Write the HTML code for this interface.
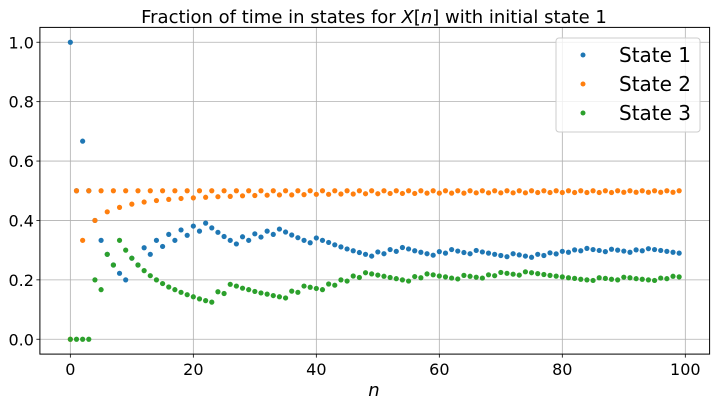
<!DOCTYPE html>
<html><head><meta charset="utf-8"><style>
html,body{margin:0;padding:0;background:#fff;}
svg{display:block;font-family:"DejaVu Sans","Liberation Sans",sans-serif;}
</style></head><body>
<svg id="chart" width="716" height="405" viewBox="0 0 716 405" xmlns="http://www.w3.org/2000/svg">
<text x="374" y="23" text-anchor="middle" font-size="18" fill="#000">Fraction of time in states for <tspan font-style="italic">X</tspan>[<tspan font-style="italic">n</tspan>] with initial state 1</text>
<g id="grid"></g>
<g id="ticks"></g>
<g id="marks"></g>
<rect x="39.9" y="27.4" width="669.7" height="326.7" fill="none" stroke="#000" stroke-width="1"/>
<text x="374" y="396" text-anchor="middle" font-size="18" font-style="italic">n</text>
<g>
<rect x="556" y="38" width="144" height="94" rx="3" fill="#fff" fill-opacity="0.8" stroke="#ccc"/>
<circle cx="583" cy="55" r="2.5" fill="#1f77b4"/>
<text x="619" y="62" font-size="20">State 1</text>
<circle cx="583" cy="84" r="2.5" fill="#ff7f0e"/>
<text x="619" y="91" font-size="20">State 2</text>
<circle cx="583" cy="113" r="2.5" fill="#2ca02c"/>
<text x="619" y="120" font-size="20">State 3</text>
</g>
</svg>
<script>
const state1 = [1,0.5,0.667,0.5,0.4,0.333,0.286,0.25,0.222,0.2,0.273,0.25,0.308,0.286,0.333,0.3125,0.353,0.333,0.368,0.35,0.381,0.364,0.391,0.375,0.36,0.346,0.333,0.321,0.345,0.333,0.355,0.344,0.364,0.353,0.371,0.361,0.351,0.342,0.333,0.325,0.341,0.333,0.326,0.318,0.311,0.304,0.298,0.292,0.286,0.28,0.294,0.288,0.302,0.296,0.309,0.304,0.298,0.293,0.288,0.283,0.295,0.29,0.302,0.297,0.292,0.288,0.299,0.294,0.29,0.286,0.282,0.278,0.288,0.284,0.28,0.276,0.286,0.282,0.291,0.2875,0.296,0.293,0.301,0.298,0.306,0.302,0.299,0.295,0.303,0.3,0.297,0.293,0.301,0.298,0.305,0.302,0.299,0.296,0.293,0.29];
const state2 = [0,0.5,0.333,0.5,0.4,0.5,0.429,0.5,0.444,0.5,0.455,0.5,0.462,0.5,0.467,0.5,0.471,0.5,0.474,0.5,0.476,0.5,0.478,0.5,0.48,0.5,0.481,0.5,0.483,0.5,0.484,0.5,0.485,0.5,0.486,0.5,0.486,0.5,0.487,0.5,0.488,0.5,0.488,0.5,0.489,0.5,0.489,0.5,0.49,0.5,0.49,0.5,0.491,0.5,0.491,0.5,0.491,0.5,0.492,0.5,0.492,0.5,0.492,0.5,0.492,0.5,0.493,0.5,0.493,0.5,0.493,0.5,0.493,0.5,0.493,0.5,0.494,0.5,0.494,0.5,0.494,0.5,0.494,0.5,0.494,0.5,0.494,0.5,0.494,0.5,0.495,0.5,0.495,0.5,0.495,0.5,0.495,0.5,0.495,0.5];
const state3 = [0,0,0,0,0.2,0.167,0.286,0.25,0.333,0.3,0.273,0.25,0.231,0.214,0.2,0.1875,0.176,0.167,0.158,0.15,0.143,0.136,0.13,0.125,0.16,0.154,0.185,0.179,0.172,0.167,0.161,0.156,0.152,0.147,0.143,0.139,0.162,0.158,0.179,0.175,0.171,0.167,0.186,0.182,0.2,0.196,0.213,0.208,0.224,0.22,0.216,0.212,0.208,0.204,0.2,0.196,0.211,0.207,0.22,0.217,0.213,0.21,0.206,0.203,0.215,0.212,0.209,0.206,0.217,0.214,0.225,0.222,0.219,0.216,0.227,0.224,0.221,0.218,0.215,0.2125,0.21,0.207,0.205,0.202,0.2,0.198,0.207,0.205,0.202,0.2,0.209,0.207,0.204,0.202,0.2,0.198,0.206,0.204,0.212,0.21];
const xTicks = [0,20,40,60,80,100];
const yTicks = [0.0,0.2,0.4,0.6,0.8,1.0];

const NS = 'http://www.w3.org/2000/svg';
const X0 = 39.9, X1 = 709.6, Y0 = 354.1, Y1 = 27.4;
const xMin = -4.95, xMax = 103.95, yMin = -0.05, yMax = 1.05;
function xs(v){ return X0 + (v - xMin) / (xMax - xMin) * (X1 - X0); }
function ys(v){ return Y0 - (v - yMin) / (yMax - yMin) * (Y0 - Y1); }
function mk(tag, attrs){ const e = document.createElementNS(NS, tag); for (const k in attrs) e.setAttribute(k, attrs[k]); return e; }

const grid = document.getElementById('grid');
const ticks = document.getElementById('ticks');
xTicks.forEach(t => {
  const g = mk('line', {x1: xs(t), x2: xs(t), y1: Y1, y2: Y0, stroke: '#b0b0b0', 'stroke-width': 0.8});
  
  
  grid.appendChild(g);
  const tk = mk('line', {x1: xs(t), x2: xs(t), y1: Y0, y2: Y0 + 3.5, stroke: '#000', 'stroke-width': 0.8});
  
  
  ticks.appendChild(tk);
  const lb = mk('text', {x: xs(t), y: Y0 + 21, 'text-anchor': 'middle', 'font-size': 16});
  
  
  lb.textContent = String(t);
  ticks.appendChild(lb);
});
yTicks.forEach(t => {
  const g = mk('line', {x1: X0, x2: X1, y1: ys(t), y2: ys(t), stroke: '#b0b0b0', 'stroke-width': 0.8});
  
  
  grid.appendChild(g);
  const tk = mk('line', {x1: X0 - 3.5, x2: X0, y1: ys(t), y2: ys(t), stroke: '#000', 'stroke-width': 0.8});
  
  
  ticks.appendChild(tk);
  const lb = mk('text', {x: X0 - 6, y: ys(t) + 6, 'text-anchor': 'end', 'font-size': 16});
  
  
  lb.textContent = t.toFixed(1);
  ticks.appendChild(lb);
});

const marks = document.getElementById('marks');
const seriesList = [[state1, '#1f77b4', 'state-1'], [state2, '#ff7f0e', 'state-2'], [state3, '#2ca02c', 'state-3']];
seriesList.forEach(([arr, color, nm]) => {
  const g = mk('g', {});
  
  
  arr.forEach((v, i) => {
    const c = mk('circle', {cx: xs(i), cy: ys(v), r: 2.6, fill: color});
    
    
    g.appendChild(c);
  });
  marks.appendChild(g);
});
</script>
</body></html>
